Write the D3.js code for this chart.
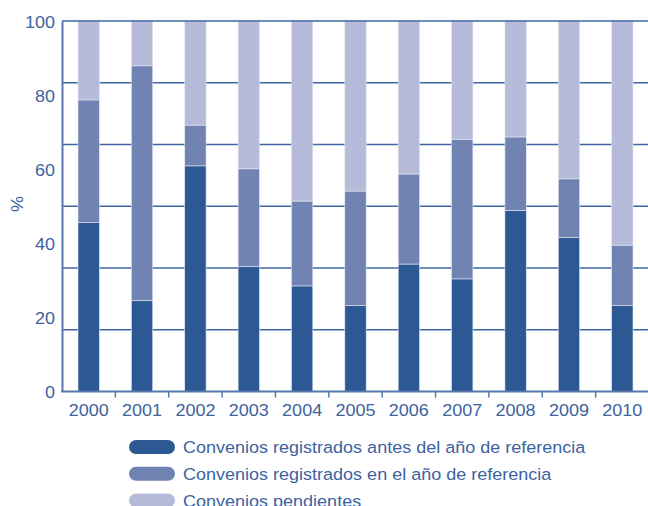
<!DOCTYPE html>
<html><head><meta charset="utf-8">
<script src="https://cdn.jsdelivr.net/npm/d3@7"></script>
<style>
body{margin:0;background:#fff;}
svg{display:block;font-family:"Liberation Sans",Arial,sans-serif;}
</style></head>
<body><svg id="c" width="648" height="506"></svg>
<script>
const years = ["2000","2001","2002","2003","2004","2005","2006","2007","2008","2009","2010"];
const antes = [45.6,24.5,60.9,33.7,28.5,23.2,34.4,30.4,48.9,41.6,23.2];
const enAnio = [33.1,63.4,11.0,26.4,22.9,30.9,24.3,37.7,19.8,15.8,16.3];
const pendientes = [21.3,12.1,28.1,39.9,48.6,45.9,41.3,31.9,31.3,42.6,60.5];
const seriesNames = ["Convenios registrados antes del año de referencia","Convenios registrados en el año de referencia","Convenios pendientes"];
const seriesColors = ["#2c5893","#7083b2","#b5bbd8"];
const yTicks = [0,20,40,60,80,100];
const gridValues = [0,100/6,200/6,300/6,400/6,500/6,100];

const svg = d3.select("#c");
const L=62, R=649, T=21, B=391.5;
const textColor="#3d63a0", axisColor="#5678ac";
const SX = 1.06;

const x = d3.scaleBand().domain(years).range([L,R]).paddingInner(0.6).paddingOuter(0.3);
const y = d3.scaleLinear().domain([0,100]).range([B,T]);

// gridlines
svg.append("g").selectAll("line").data(gridValues.slice(1,-1)).join("line")
  .attr("x1",L).attr("x2",648).attr("y1",d=>y(d)).attr("y2",d=>y(d))
  .attr("stroke","#3f66a3").attr("stroke-width",1.6);

// stacked bars
const rows = years.map((yr,i)=>({year:yr,a:antes[i],b:enAnio[i],c:pendientes[i]}));
const stack = d3.stack().keys(["a","b","c"])(rows);
svg.append("g").selectAll("g").data(stack).join("g")
  .attr("fill",(d,i)=>seriesColors[i])
  .selectAll("rect").data(d=>d).join("rect")
  .attr("x",d=>x(d.data.year)).attr("width",x.bandwidth())
  .attr("y",d=>y(Math.min(100,d[1]))).attr("height",d=>y(d[0])-y(Math.min(100,d[1])))
  .attr("stroke","#e4e7f2").attr("stroke-width",0.6);

// top line
svg.append("line").attr("x1",L).attr("x2",648).attr("y1",y(100)).attr("y2",y(100))
  .attr("stroke","#3f66a3").attr("stroke-width",1.6);

// y axis
const yAxis = d3.axisLeft(y).tickValues(yTicks).tickSize(0).tickPadding(0);
const gy = svg.append("g").attr("transform",`translate(${L},0)`).call(yAxis);
gy.select(".domain").attr("stroke",axisColor).attr("stroke-width",2);
gy.selectAll("text").attr("fill",textColor).attr("font-size","17px").attr("dy","0.36em")
  .attr("x",0).attr("transform",`translate(-7,0) scale(${SX},1)`);

// x axis
const xAxis = d3.axisBottom(x).tickSize(0).tickPadding(12);
const gx = svg.append("g").attr("transform",`translate(0,${B})`).call(xAxis);
gx.select(".domain").remove();
gx.selectAll("text").attr("fill",textColor).attr("font-size","17px")
  .attr("transform",`scale(${SX},1)`);
svg.append("line").attr("x1",L-1).attr("x2",648).attr("y1",B).attr("y2",B)
  .attr("stroke",axisColor).attr("stroke-width",2);
svg.append("g").selectAll("line").data(years.slice(1)).join("line")
  .attr("x1",d=>x(d)-x.step()*x.paddingInner()/2).attr("x2",d=>x(d)-x.step()*x.paddingInner()/2)
  .attr("y1",B).attr("y2",B+6).attr("stroke",axisColor).attr("stroke-width",1.5);

// y label
svg.append("text").attr("transform",`translate(23,204) rotate(-90) scale(${SX},1)`)
  .attr("text-anchor","middle").attr("fill",textColor).attr("font-size","17px").text("%");

// legend
const lg = svg.append("g").selectAll("g").data(seriesNames).join("g")
  .attr("transform",(d,i)=>`translate(129,${447+i*26.8})`);
lg.append("rect").attr("x",0).attr("y",-7).attr("width",46).attr("height",14).attr("rx",7)
  .attr("fill",(d,i)=>seriesColors[i]);
lg.append("text").attr("transform",`translate(54,6) scale(${SX},1)`)
  .attr("fill",textColor).attr("font-size","17px").text(d=>d);
</script></body></html>
